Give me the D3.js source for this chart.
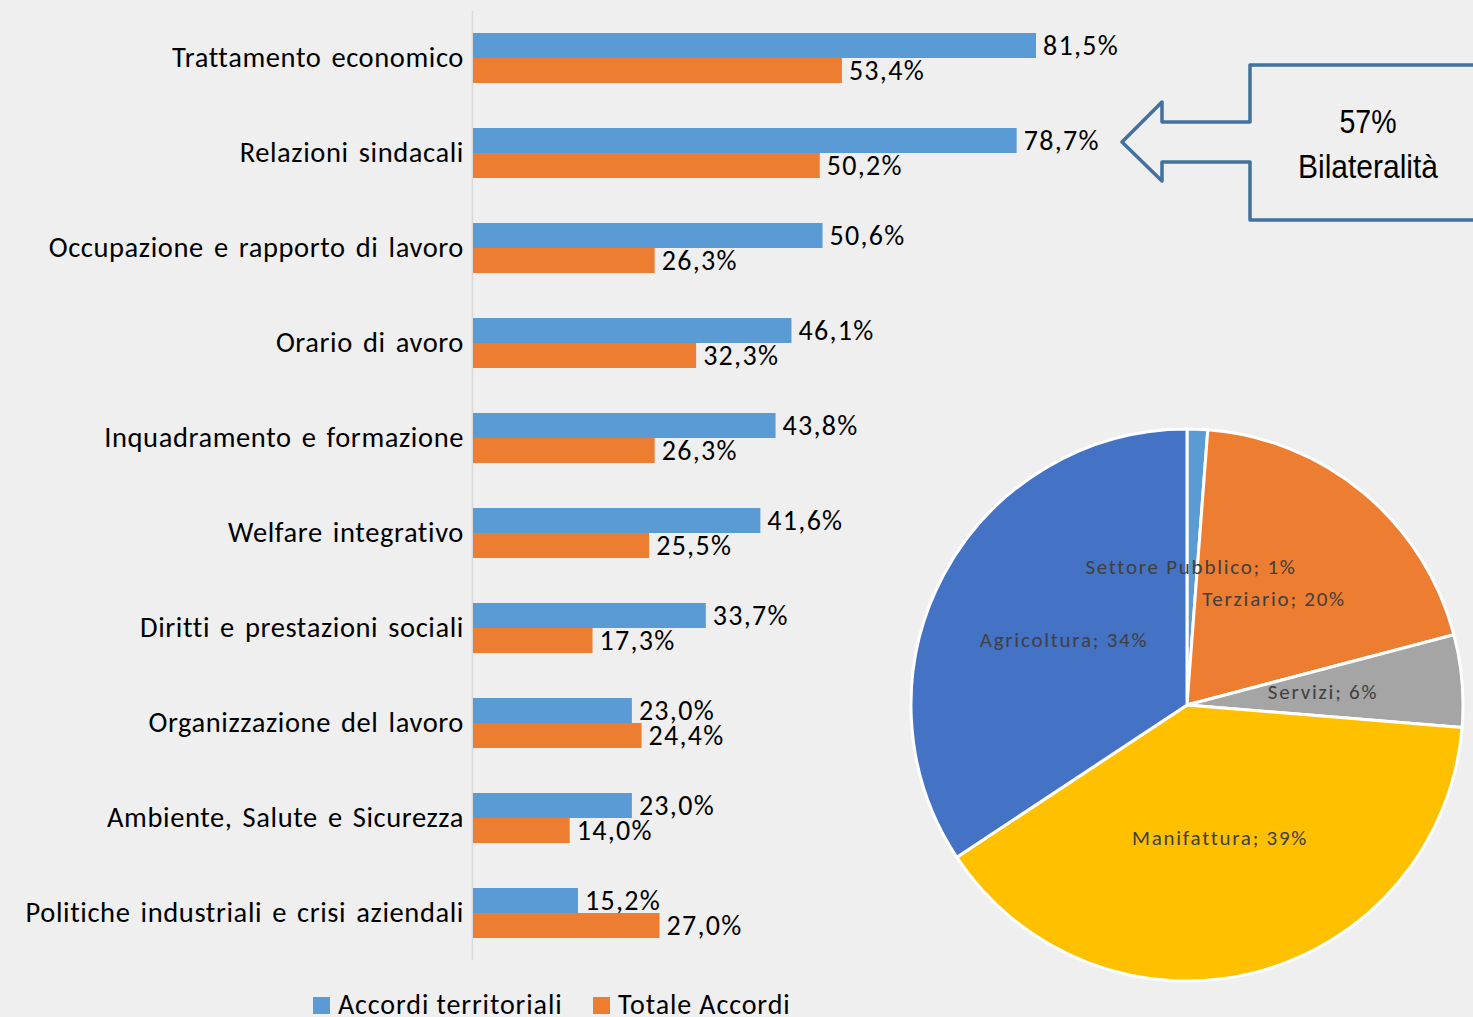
<!DOCTYPE html>
<html><head><meta charset="utf-8">
<script src="https://cdn.jsdelivr.net/npm/d3@7"></script>
<style>
html,body{margin:0;padding:0;background:#efefef;overflow:hidden;}
svg{display:block;}
</style></head>
<body>
<script>
const categories = ["Trattamento economico","Relazioni sindacali","Occupazione e rapporto di lavoro","Orario di avoro","Inquadramento e formazione","Welfare integrativo","Diritti e prestazioni sociali","Organizzazione del lavoro","Ambiente, Salute e Sicurezza","Politiche industriali e crisi aziendali"];
const accordiTerritoriali = [81.5,78.7,50.6,46.1,43.8,41.6,33.7,23.0,23.0,15.2];
const totaleAccordi = [53.4,50.2,26.3,32.3,26.3,25.5,17.3,24.4,14.0,27.0];
const seriesNames = ["Accordi territoriali","Totale Accordi"];
const pieLabels = ["Settore Pubblico","Terziario","Servizi","Manifattura","Agricoltura"];
const pieValues = [1.2,19.7,5.4,39.4,34.3];
const pieText = ["1%","20%","6%","39%","34%"];
const calloutLines = ["57%","Bilateralità"];

const W=1473,H=1017;
const svg=d3.select("body").append("svg").attr("width",W).attr("height",H);
svg.append("rect").attr("width",W).attr("height",H).attr("fill","#efefef");

const font="Carlito, Calibri, Lato, 'Open Sans', sans-serif";
const x=d3.scaleLinear().domain([0,100]).range([473,473+690.8]);
const y=d3.scaleBand().domain(categories).range([10.5,960.5]);
const barH=25;
const colors=["#5b9bd5","#ed7d31"];

// axis line
svg.append("line").attr("x1",472.5).attr("x2",472.5).attr("y1",11).attr("y2",960).attr("stroke","#d9d9d9").attr("stroke-width",1.5);

const g=svg.append("g");
categories.forEach((c,i)=>{
  const cy=y(c)+y.bandwidth()/2;
  [accordiTerritoriali[i],totaleAccordi[i]].forEach((v,s)=>{
    const top=cy-barH+s*barH;
    g.append("rect").attr("x",x(0)).attr("y",top).attr("width",x(v)-x(0)).attr("height",barH).attr("fill",colors[s]);
    g.append("text").attr("x",x(v)+7).attr("y",top+barH/2-1).attr("dy","0.36em")
      .attr("font-family",font).attr("font-size",28).attr("letter-spacing",1.3).attr("fill","#000")
      .text(v.toFixed(1).replace(".",",")+"%");
  });
  g.append("text").attr("x",464).attr("y",cy-1).attr("dy","0.36em").attr("text-anchor","end")
    .attr("font-family",font).attr("font-size",28.5).attr("letter-spacing",0.6).attr("word-spacing",3).attr("fill","#000").text(c);
});

// legend
const leg=svg.append("g");
const legX=[313,593];
seriesNames.forEach((n,i)=>{
  leg.append("rect").attr("x",legX[i]).attr("y",997).attr("width",17).attr("height",17).attr("fill",colors[i]);
  leg.append("text").attr("x",legX[i]+25).attr("y",1004).attr("dy","0.36em").attr("font-family",font).attr("font-size",28).attr("letter-spacing",0.9).attr("fill","#000").text(n);
});

// pie
const pieColors=["#5b9bd5","#ed7d31","#a5a5a5","#ffc000","#4472c4"];
const cx=1187,cyP=705,R=276;
const pie=d3.pie().sort(null).value(d=>d)(pieValues);
const arc=d3.arc().innerRadius(0).outerRadius(R);
const pg=svg.append("g").attr("transform",`translate(${cx},${cyP})`);
pg.selectAll("path").data(pie).join("path").attr("d",arc).attr("fill",(d,i)=>pieColors[i]).attr("stroke","#fff").attr("stroke-width",3).attr("stroke-linejoin","round");
const labPos=[[4,-139],[87,-107],[136,-14],[33,132],[-123,-66]];
pieLabels.forEach((l,i)=>{
  pg.append("text").attr("x",labPos[i][0]).attr("y",labPos[i][1]).attr("dy","0.36em").attr("text-anchor","middle")
    .attr("font-family",font).attr("font-size",21).attr("letter-spacing",1.75).attr("fill","#404040").text(l+"; "+pieText[i]);
});

// callout
const cp=d3.path();
cp.moveTo(1480,65);cp.lineTo(1250,65);cp.lineTo(1250,122);cp.lineTo(1162,122);cp.lineTo(1162,102);
cp.lineTo(1122,142);cp.lineTo(1162,181);cp.lineTo(1162,162);cp.lineTo(1250,162);cp.lineTo(1250,220);cp.lineTo(1480,220);
svg.append("path").attr("d",cp.toString()).attr("fill","none").attr("stroke","#41719c").attr("stroke-width",3.5).attr("stroke-linejoin","round");
const cf="'Liberation Sans Narrow', 'Arial Narrow', 'Liberation Sans', sans-serif";
svg.append("text").attr("x",1368).attr("y",133).attr("text-anchor","middle").attr("font-family",cf).attr("font-size",33).attr("fill","#000")
  .attr("textLength",57).attr("lengthAdjust","spacingAndGlyphs").text(calloutLines[0]);
svg.append("text").attr("x",1368).attr("y",178).attr("text-anchor","middle").attr("font-family",cf).attr("font-size",33).attr("fill","#000")
  .attr("textLength",140).attr("lengthAdjust","spacingAndGlyphs").text(calloutLines[1]);
</script>
</body></html>
